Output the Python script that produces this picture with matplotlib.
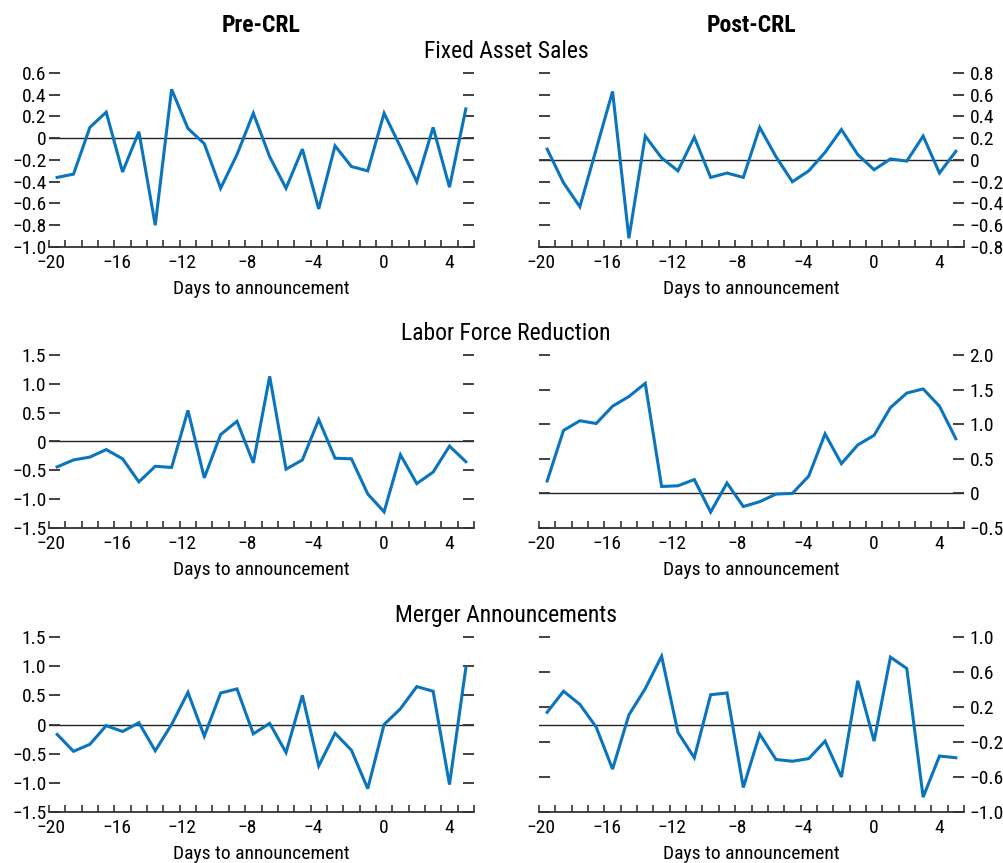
import matplotlib
matplotlib.use("Agg")
import matplotlib.pyplot as plt
import matplotlib.transforms as mtransforms
import numpy as np

plt.rcParams['font.family'] = ['Roboto Condensed', 'DejaVu Sans']
plt.rcParams['axes.unicode_minus'] = True

# days relative to announcement
days = list(range(-20, 6))

# Fixed asset sales
fas_pre = [-0.36, -0.33, 0.10, 0.24, -0.31, 0.06, -0.80, 0.45, 0.09, -0.05,
           -0.46, -0.15, 0.23, -0.17, -0.46, -0.10, -0.65, -0.07, -0.26, -0.30,
           0.23, -0.08, -0.40, 0.10, -0.45, 0.27]
fas_post = [0.10, -0.21, -0.43, 0.10, 0.63, -0.72, 0.22, 0.02, -0.10, 0.21,
            -0.16, -0.12, -0.16, 0.30, 0.03, -0.20, -0.10, 0.07, 0.28, 0.05,
            -0.09, 0.01, -0.01, 0.22, -0.12, 0.08]

# Labor force reduction
lfr_pre = [-0.44, -0.32, -0.27, -0.14, -0.30, -0.70, -0.43, -0.45, 0.54, -0.63,
           0.12, 0.35, -0.37, 1.13, -0.48, -0.32, 0.38, -0.29, -0.30, -0.91,
           -1.22, -0.23, -0.73, -0.53, -0.08, -0.35]
lfr_post = [0.18, 0.91, 1.05, 1.01, 1.26, 1.40, 1.59, 0.10, 0.11, 0.20,
            -0.27, 0.15, -0.19, -0.12, -0.01, 0.00, 0.25, 0.86, 0.43, 0.70,
            0.84, 1.24, 1.45, 1.51, 1.26, 0.79]

# Merger announcements
ma_pre = [-0.17, -0.46, -0.34, -0.02, -0.12, 0.03, -0.45, 0.00, 0.55, -0.20,
          0.54, 0.61, -0.16, 0.02, -0.48, 0.50, -0.71, -0.15, -0.44, -1.10,
          0.00, 0.27, 0.65, 0.57, -1.03, 0.97]
ma_post = [0.14, 0.38, 0.23, -0.03, -0.51, 0.11, 0.41, 0.78, -0.09, -0.38,
           0.34, 0.36, -0.72, -0.11, -0.40, -0.42, -0.39, -0.19, -0.60, 0.50,
           -0.19, 0.77, 0.64, -0.83, -0.36, -0.38]

series = [[fas_pre, fas_post], [lfr_pre, lfr_post], [ma_pre, ma_post]]
row_titles = ["Fixed Asset Sales", "Labor Force Reduction", "Merger Announcements"]
col_titles = ["Pre-CRL", "Post-CRL"]
yticks = [
    [np.arange(-1.0, 0.61, 0.2), np.arange(-0.8, 0.81, 0.2)],
    [np.arange(-1.5, 1.51, 0.5), np.arange(-0.5, 2.01, 0.5)],
    [np.arange(-1.5, 1.51, 0.5), np.arange(-1.0, 1.01, 0.4)],
]
xticks = [-20, -16, -12, -8, -4, 0, 4]

line_color = "#0a74bd"
tick_color = "#333333"
fs = 14

W, H = 1004, 863
fig = plt.figure(figsize=(W / 100, H / 100), dpi=100)

col_x = [49, 539]
row_y = [(73, 247), (355, 528), (637, 812)]
ax_w = 425


def fmt(v):
    if abs(v) < 1e-9:
        return "0"
    s = f"{abs(v):.1f}"
    return ("\u2212" + s) if v < 0 else s


for r in range(3):
    top, bot = row_y[r]
    for c in range(2):
        ax = fig.add_axes([col_x[c] / W, 1 - bot / H, ax_w / W, (bot - top) / H])
        ax.plot(days, series[r][c], color=line_color, lw=2.2, solid_joinstyle='miter')
        ax.axhline(0, color="#222222", lw=1.0, zorder=1)

        yt = yticks[r][c]
        ax.set_ylim(yt[0], yt[-1])
        ax.set_yticks(yt)
        ax.set_yticklabels([fmt(v) for v in yt])
        ax.tick_params(axis='y', direction='in', left=True, right=True,
                       length=8, width=1.3, color=tick_color,
                       labelleft=(c == 0), labelright=(c == 1),
                       labelsize=fs, pad=2 if c == 0 else 4)

        ax.set_xlim(-20.5, 5.5)
        ax.set_xticks(xticks)
        ax.set_xticklabels([fmt(v).replace(".0", "") for v in xticks])
        ax.set_xticks(np.arange(-20.5, 5.6, 1.0), minor=True)
        ax.tick_params(axis='x', which='major', length=0, labelsize=fs, pad=5)
        ax.tick_params(axis='x', which='minor', direction='in', length=5,
                       width=1.2, color=tick_color)
        shift = mtransforms.ScaledTranslation(-0.06, 0, fig.dpi_scale_trans)
        for v, lab in zip(xticks, ax.get_xticklabels()):
            if v < 0:
                lab.set_transform(lab.get_transform() + shift)

        for s in ['top', 'left', 'right']:
            ax.spines[s].set_visible(False)
        ax.spines['bottom'].set_linewidth(1.3)
        ax.spines['bottom'].set_color(tick_color)
        ax.set_xlabel("Days to announcement", fontsize=fs, labelpad=6)

    fig.text(506 / W, 1 - (top - 22) / H, row_titles[r], ha='center', va='center',
             fontsize=17)

for c in range(2):
    fig.text((col_x[c] + ax_w / 2) / W, 1 - 25 / H, col_titles[c], ha='center',
             va='center', fontsize=17, fontweight='bold')

fig.savefig("out.png", dpi=100)
